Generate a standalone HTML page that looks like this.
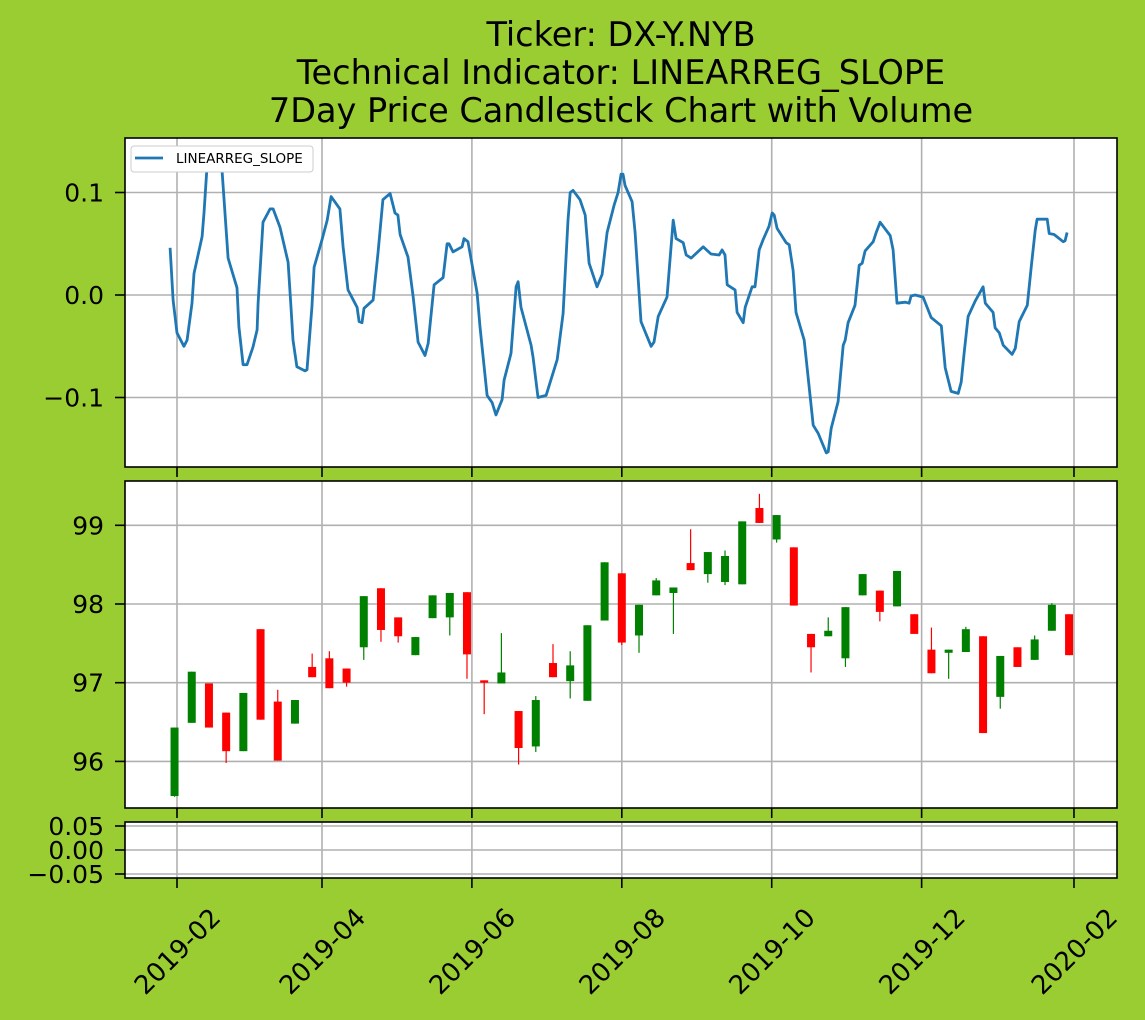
<!DOCTYPE html>
<html><head><meta charset="utf-8"><style>
html,body{margin:0;padding:0;background:#9acd32;}
svg{display:block;font-family:"DejaVu Sans","Liberation Sans",sans-serif;}
</style></head><body>
<svg id="c" width="1145" height="1020" viewBox="0 0 1145 1020" xmlns="http://www.w3.org/2000/svg">
<rect width="1145" height="1020" fill="#9acd32"/>
<g font-size="33.5" text-anchor="middle" fill="#000">
<text x="621" y="46">Ticker: DX-Y.NYB</text>
<text x="621" y="84">Technical Indicator: LINEARREG_SLOPE</text>
<text x="621" y="122">7Day Price Candlestick Chart with Volume</text>
</g>
</svg>
<script>
// Indicator line: day offsets from 2019-02-01, values
const lineDays=[-2.8,-1.6,0,2.8,4.1,6.1,6.9,10.2,11.0,12.2,13.4,16.7,18.3,20.8,24.4,25.2,26.9,28.5,30.9,32.6,33.0,35.0,37.9,39.1,41.9,45.2,46.4,47.2,48.8,52.1,52.9,54.9,55.8,59.0,61.1,62.7,66.3,67.6,69.6,73.3,74.1,75.3,76.1,79.8,81.8,83.8,86.7,88.7,89.9,90.8,94.0,96.1,98.1,100.9,102.2,104.6,108.3,109.9,110.7,112.3,116.0,116.8,118.4,122.1,123.3,126.2,128.2,129.8,132.3,133.1,135.9,138.0,138.8,140.0,144.1,144.9,146.9,150.2,154.7,157.1,159.1,160.0,161.2,164.0,166.1,167.7,170.9,173.0,175.0,177.9,179.5,180.7,181.5,182.3,185.2,186.4,188.8,192.9,194.1,195.8,199.4,201.9,203.1,206.0,207.2,209.2,214.1,217.3,220.6,221.8,223.0,223.9,227.1,227.9,230.4,231.2,234.0,235.2,236.9,238.5,240.9,242.2,243.0,244.2,247.9,249.1,250.7,251.9,255.2,256.8,258.9,260.9,264.2,265.0,266.2,269.0,271.1,271.9,273.1,275.9,277.6,278.8,280.0,283.3,284.5,286.1,290.2,291.4,293.0,296.3,297.9,298.7,300.4,303.6,306.9,311.0,312.6,315.0,317.9,319.1,320.3,321.9,324.8,328.0,328.9,332.1,332.9,334.6,336.2,339.8,341.1,342.7,346.0,347.6,349.2,350.0,354.1,354.9,356.9,360.6,361.4,362.2];
const lineVals=[0.046,-0.005,-0.037,-0.050,-0.044,-0.008,0.021,0.057,0.080,0.125,0.135,0.135,0.122,0.036,0.007,-0.031,-0.068,-0.068,-0.051,-0.034,-0.008,0.071,0.084,0.084,0.066,0.032,-0.012,-0.044,-0.070,-0.074,-0.073,-0.012,0.027,0.054,0.073,0.096,0.084,0.047,0.005,-0.012,-0.026,-0.027,-0.013,-0.005,0.041,0.093,0.099,0.080,0.078,0.059,0.037,-0.002,-0.046,-0.059,-0.047,0.010,0.017,0.050,0.050,0.042,0.047,0.055,0.052,0.002,-0.031,-0.098,-0.105,-0.117,-0.102,-0.083,-0.057,0.008,0.013,-0.012,-0.049,-0.061,-0.100,-0.098,-0.063,-0.018,0.073,0.100,0.102,0.093,0.078,0.031,0.008,0.020,0.061,0.088,0.100,0.118,0.118,0.107,0.091,0.061,-0.026,-0.050,-0.046,-0.021,-0.002,0.073,0.055,0.051,0.039,0.036,0.047,0.040,0.039,0.044,0.039,0.010,0.005,-0.017,-0.027,-0.012,0.008,0.008,0.044,0.054,0.067,0.080,0.078,0.065,0.051,0.049,0.024,-0.017,-0.044,-0.080,-0.127,-0.135,-0.154,-0.153,-0.130,-0.104,-0.049,-0.044,-0.027,-0.010,0.029,0.031,0.043,0.052,0.061,0.071,0.058,0.044,-0.008,-0.007,-0.008,-0.001,0.000,-0.002,-0.022,-0.030,-0.071,-0.094,-0.096,-0.085,-0.057,-0.021,-0.006,0.008,-0.008,-0.017,-0.032,-0.037,-0.049,-0.058,-0.052,-0.026,-0.010,0.027,0.063,0.074,0.074,0.060,0.059,0.052,0.053,0.061];
// Weekly candles (week i -> day -1 + 7i)
const cOpen=[95.56,96.49,96.99,96.62,96.13,97.68,96.76,96.48,97.20,97.31,97.18,97.45,98.20,97.83,97.35,97.82,97.83,98.15,97.03,96.99,96.64,96.19,97.25,97.02,96.77,97.79,98.39,97.60,98.11,98.14,98.52,98.38,98.28,98.25,99.22,98.82,98.72,97.62,97.59,97.31,98.11,98.17,97.97,97.87,97.42,97.38,97.39,97.59,96.82,97.45,97.29,97.66,97.87];
const cClose=[96.43,97.14,96.43,96.13,96.87,96.53,96.01,96.78,97.07,96.93,97.00,98.10,97.67,97.59,97.58,98.11,98.14,97.36,97.00,97.13,96.17,96.78,97.07,97.22,97.73,98.53,97.51,97.99,98.30,98.21,98.43,98.66,98.61,99.05,99.03,99.13,97.98,97.45,97.66,97.96,98.38,97.90,98.42,97.62,97.12,97.42,97.68,96.36,97.34,97.20,97.55,97.99,97.35];
const cHigh=[96.43,97.14,96.99,96.62,96.87,97.68,96.91,96.78,97.37,97.40,97.18,98.10,98.20,97.83,97.58,98.11,98.14,98.15,97.03,97.63,96.64,96.83,97.49,97.40,97.73,98.53,98.39,97.99,98.33,98.21,98.95,98.66,98.68,99.05,99.40,99.13,98.72,97.62,97.83,97.96,98.38,98.17,98.42,97.87,97.70,97.42,97.71,97.59,97.34,97.45,97.60,98.01,97.87];
const cLow=[95.55,96.49,96.43,95.98,96.13,96.53,96.01,96.48,97.07,96.93,96.95,97.29,97.52,97.51,97.35,97.82,97.60,97.05,96.60,96.99,95.96,96.12,97.07,96.80,96.77,97.79,97.48,97.38,98.11,97.62,98.43,98.27,98.24,98.25,99.03,98.78,97.98,97.13,97.59,97.20,98.11,97.78,97.97,97.62,97.12,97.05,97.39,96.36,96.67,97.20,97.29,97.66,97.35];
const xTickLabels=["2019-02","2019-04","2019-06","2019-08","2019-10","2019-12","2020-02"];
const xTickDays=[0,59,120,181,242,303,365];
const topTicks=[-0.1,0.0,0.1], topTickLabels=["\u22120.1","0.0","0.1"];
const midTicks=[96,97,98,99];
const botTicks=[-0.05,0,0.05], botTickLabels=["\u22120.05","0.00","0.05"];

const NS="http://www.w3.org/2000/svg", svg=document.getElementById('c');
function mk(t,a,p){const e=document.createElementNS(NS,t);for(const k in a)e.setAttribute(k,a[k]);(p||svg).appendChild(e);return e;}
const L=125,R=1117;
const x=d=>177+d*2.4575;
const yTop=v=>295-v*1025, yMid=v=>604-(v-98)*78.7, yBot=v=>850-v*480;
const panels=[{t:138,b:467,y:yTop,ticks:topTicks,labels:topTickLabels,name:'indicator-panel'},
{t:481,b:808,y:yMid,ticks:midTicks,labels:midTicks.map(String),name:'price-panel'},
{t:822,b:878,y:yBot,ticks:botTicks,labels:botTickLabels,name:'volume-panel'}];
const gs={};
panels.forEach(p=>{
 const g=mk('g',{});
 
 
 gs[p.name]=g;
 const bg=mk('rect',{x:L,y:p.t,width:R-L,height:p.b-p.t,fill:'#fff'},g);
 
 
 xTickDays.forEach(d=>{const l=mk('line',{x1:x(d),x2:x(d),y1:p.t,y2:p.b,stroke:'#b0b0b0','stroke-width':1.6},g);
  
  const tk=mk('line',{x1:x(d),x2:x(d),y1:p.b,y2:p.b+10,stroke:'#000','stroke-width':1.6},g);
  });
 p.ticks.forEach((v,i)=>{const yy=p.y(v);
  const l=mk('line',{x1:L,x2:R,y1:yy,y2:yy,stroke:'#b0b0b0','stroke-width':1.6},g);
  
  const tk=mk('line',{x1:L-10,x2:L,y1:yy,y2:yy,stroke:'#000','stroke-width':1.6},g);
  
  const t=mk('text',{x:L-21,y:yy+9,'font-size':25,'text-anchor':'end'},g);t.textContent=p.labels[i];
  });
});
// line
const gt=gs['indicator-panel'];
const path=mk('path',{d:lineDays.map((d,i)=>(i?'L':'M')+x(d).toFixed(1)+','+yTop(lineVals[i]).toFixed(1)).join(''),fill:'none',stroke:'#1f77b4','stroke-width':2.8,'stroke-linejoin':'round'},gt);


// legend
const lg=mk('g',{},gt);


mk('rect',{x:131,y:146,width:182,height:26,rx:3,fill:'#fff',stroke:'#ccc','stroke-width':1},lg);
mk('line',{x1:135,x2:163,y1:158,y2:158,stroke:'#1f77b4','stroke-width':2.8},lg);
const lt=mk('text',{x:176,y:163,'font-size':13.5},lg);lt.textContent='LINEARREG_SLOPE';

// candles
const gm=gs['price-panel'];
cOpen.forEach((o,i)=>{const d=-1+7*i, c=cClose[i], col=c>=o?'#008000':'#ff0000';
 const cg=mk('g',{},gm);
 
 
 mk('line',{x1:x(d),x2:x(d),y1:yMid(cHigh[i]),y2:yMid(cLow[i]),stroke:col,'stroke-width':1.2},cg);
 const t=Math.min(yMid(o),yMid(c)),h=Math.max(1.5,Math.abs(yMid(o)-yMid(c)));
 mk('rect',{x:x(d)-4,y:t,width:8,height:h,fill:col},cg);
});
// spines & x labels
panels.forEach(p=>{const s=mk('rect',{x:L,y:p.t,width:R-L,height:p.b-p.t,fill:'none',stroke:'#000','stroke-width':1.6},gs[p.name]);
 });
xTickDays.forEach((d,i)=>{const tx=x(d),ty=951;
 const t=mk('text',{x:tx,y:ty,dy:'0.36em','font-size':26,'text-anchor':'middle',transform:`rotate(-45 ${tx} ${ty})`});
 t.textContent=xTickLabels[i];
 });
</script>
</body></html>
